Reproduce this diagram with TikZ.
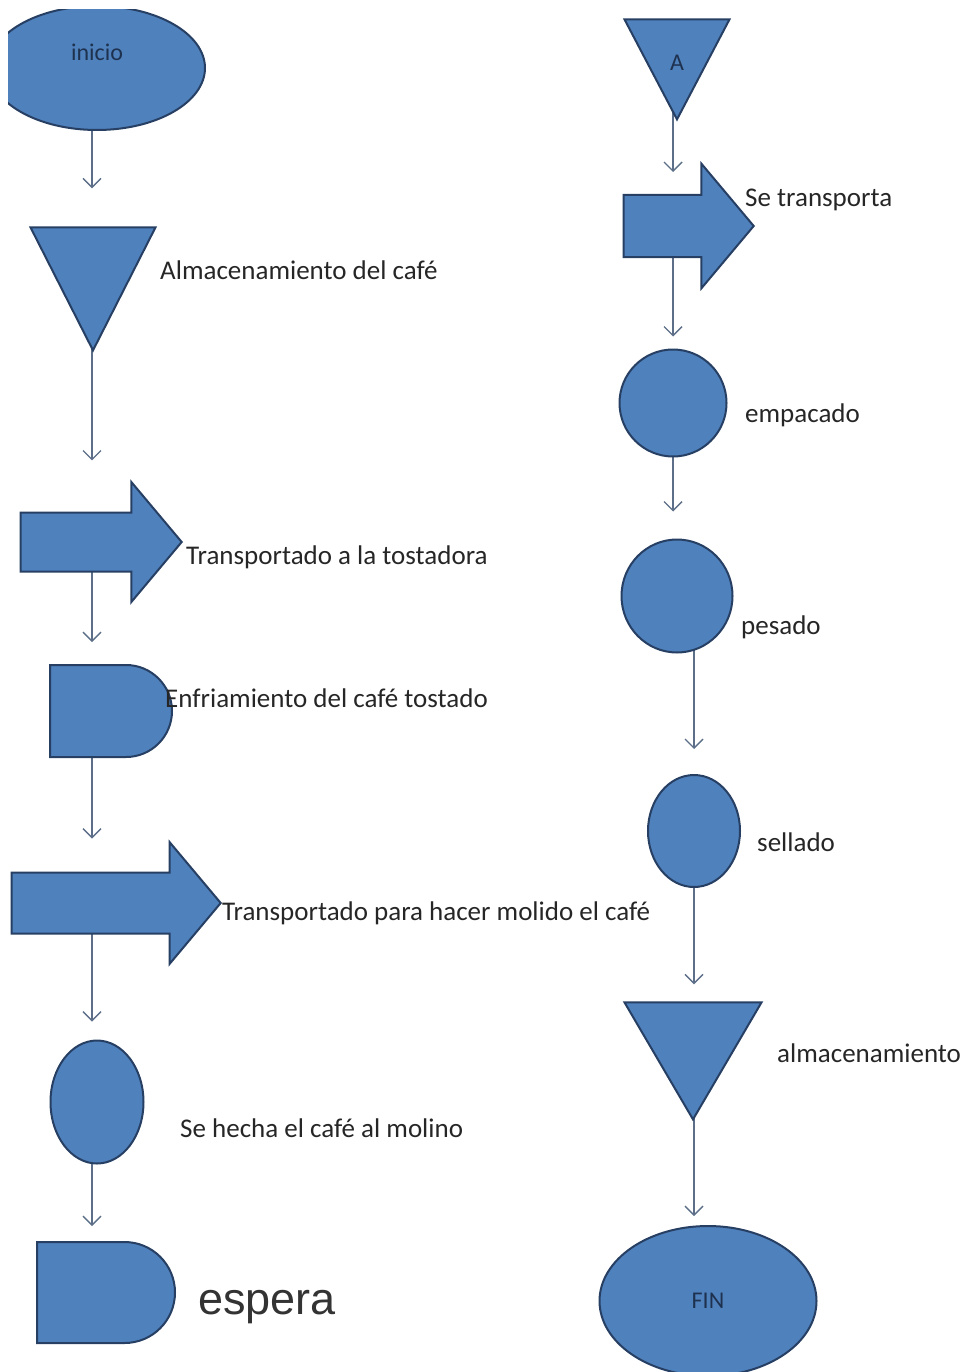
\documentclass[tikz,border=0pt]{standalone}
\usepackage{fontspec}
\setmainfont{Carlito}
\newfontfamily\esperafont{Liberation Sans}
\usepackage{xcolor}
\usetikzlibrary{arrows.meta, positioning, shapes.geometric, shapes.arrows, shapes.misc, backgrounds}

\definecolor{shapefill}{HTML}{4F81BD}
\definecolor{shapeline}{HTML}{263F63}
\definecolor{connline}{HTML}{5C6E88}

\begin{document}
\begin{tikzpicture}[
  x=1pt, y=-1pt,
  shp/.style    = {draw=shapeline, fill=shapefill, line width=2pt, inner sep=0pt,
                   font=\fontsize{24}{26}\selectfont, text=shapeline!80!black},
  oval/.style   = {shp, ellipse},
  store/.style  = {shp, isosceles triangle, isosceles triangle stretches,
                   shape border rotate=-90, anchor=apex},
  move/.style   = {shp, single arrow, single arrow tip angle=100, inner xsep=0pt, anchor=tip},
  delay/.style  = {shp, rounded rectangle, rounded rectangle west arc=none},
  conn/.style   = {-{Straight Barb[length=9pt, width=18pt]}, draw=connline, line width=1.4pt},
  lbl/.style    = {anchor=west, inner sep=0pt, font=\fontsize{27}{30}\selectfont, text=black!85}
]
\useasboundingbox (0,0) rectangle (969,1372);

% ── Left column ──────────────────────────────────────────────────────────────
\begin{scope}
  \clip (8,10) rectangle (969,1372);
  \node[oval, minimum width=216pt, minimum height=124pt, text depth=31pt] (inicio) at (97,68) {inicio};
\end{scope}
\node[store, minimum width=125pt, minimum height=123pt] (almcafe) at (93,353) {};
\node[move, minimum height=161pt, minimum width=118pt, inner ysep=28.5pt,
      single arrow head extend=30.5pt] (tostadora) at (183,542) {};
\node[delay, minimum width=122pt, minimum height=92pt] (enfriado) at (111,711) {};
\node[move, minimum height=209pt, minimum width=120pt, inner ysep=29.5pt,
      single arrow head extend=30.5pt] (molido) at (222,903) {};
\node[oval, minimum width=93pt, minimum height=123pt] (molino) at (97,1102) {};
\node[delay, minimum width=138pt, minimum height=101pt] (espera) at (106,1292.5) {};

% ── Right column ─────────────────────────────────────────────────────────────
\node[store, minimum width=105pt, minimum height=100pt, text height=34pt, text depth=0pt]
      (conA) at (677,122) {A};
\node[move, minimum height=130pt, minimum width=123pt, inner ysep=30pt,
      single arrow head extend=31.5pt] (transporta) at (755,226) {};
\node[oval, minimum width=107pt, minimum height=107pt] (empacado) at (673,403) {};
\node[oval, minimum width=111pt, minimum height=113pt] (pesado) at (677,596) {};
\node[oval, minimum width=92pt, minimum height=112pt] (sellado) at (694,831) {};
\node[store, minimum width=137pt, minimum height=117pt] (almfin) at (693,1122) {};
\node[oval, minimum width=217pt, minimum height=150pt] (fin) at (708,1301) {FIN};

% ── Labels ───────────────────────────────────────────────────────────────────
\node[lbl] (lalmcafe)    at (160,270)  {Almacenamiento del café};
\node[lbl] (ltostadora)  at (186,557)  {Transportado a la tostadora};
\node[lbl] (lenfriado)   at (165,698)  {Enfriamiento del café tostado};
\node[lbl] (lmolido)     at (222,913)  {Transportado para hacer molido el café};
\node[lbl] (lmolino)     at (180,1128) {Se hecha el café al molino};
\node[lbl, font=\esperafont\fontsize{45}{50}\selectfont, text=black!80]
           (lespera)     at (198,1307) {espera};
\node[lbl] (ltransporta) at (745,200)  {Se transporta};
\node[lbl] (lempacado)   at (745,415)  {empacado};
\node[lbl] (lpesado)     at (741,627)  {pesado};
\node[lbl] (lsellado)    at (757,842)  {sellado};
\node[lbl] (lalmfin)     at (777,1053) {almacenamiento};

% ── Connectors ───────────────────────────────────────────────────────────────
\coordinate (colL) at (92,0);
\coordinate (colR) at (673,0);
\begin{scope}[on background layer]
  \draw[conn, shorten >=38pt] (inicio -| colL)    -- (almcafe.north -| colL);
  \draw[conn, shorten >=51pt] (almcafe -| colL)   -- (tostadora.north -| colL);
  \draw[conn, shorten >=22pt] (tostadora -| colL) -- (enfriado.north -| colL);
  \draw[conn, shorten >=33pt] (enfriado -| colL)  -- (molido.north -| colL);
  \draw[conn, shorten >=18pt] (molido -| colL)    -- (molino.north -| colL);
  \draw[conn, shorten >=15pt] (molino -| colL)    -- (espera.north -| colL);
  \draw[conn, shorten >=22pt] (conA -| colR)       -- (transporta.north -| colR);
  \draw[conn, shorten >=12pt] (transporta -| colR) -- (empacado.north -| colR);
  \draw[conn, shorten >=27pt] (empacado.center)    -- (empacado.center |- pesado.north);
  \draw[conn, shorten >=25pt] (pesado -| sellado)  -- (sellado.north);
  \draw[conn, shorten >=17pt] (sellado)            -- (almfin.north -| sellado);
  \draw[conn, shorten >=9pt]  (almfin -| sellado)  -- (fin.north -| sellado);
\end{scope}
\end{tikzpicture}
\end{document}
